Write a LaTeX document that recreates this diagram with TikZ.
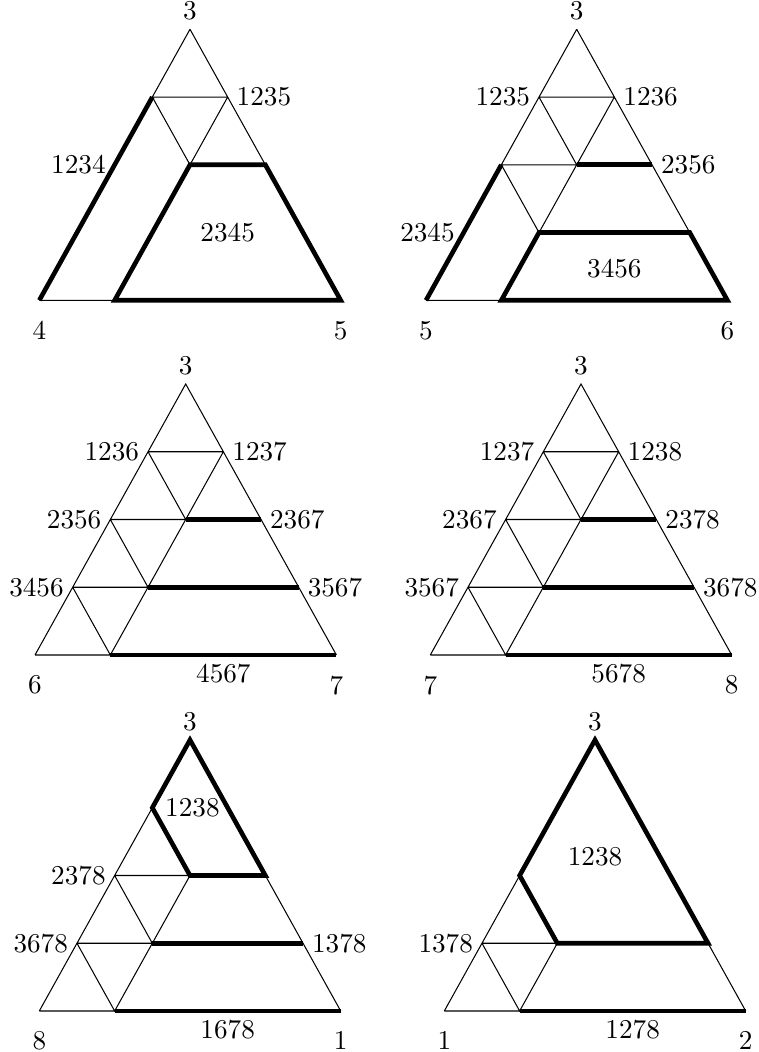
\documentclass[tikz,border=0pt]{standalone}
\usetikzlibrary{calc}
\tikzset{PlabThin/.style={line width=.4pt},
         PlabThick/.style={line width=1.8pt},
         PlabCorner/.style={anchor=north,yshift=-4.6pt}}

\begin{document}
\begin{tikzpicture}[x=.39pt,y=.39pt,
  every node/.style={font=\fontsize{10.6}{12}\selectfont}]
  \useasboundingbox (0,0) rectangle (759,1052);
  % lattice points of the six triangles: (T i j) is row i, place j
  \foreach \t/\ax/\ay in {A/190/1022.7,B/576.7/1022.7,C/185.7/668,
                          D/581/668,E/190/312,F/595/312} {
    \foreach \i in {0,...,4} {
      \foreach \j in {0,...,\i} {
        \coordinate (\t\i\j) at ({\ax+(\j-\i/2)*75.35},{\ay-\i*67.75});
      }
    }
  }
  % apex and corner labels
  \foreach \t/\l/\r in {A/4/5,B/5/6,C/6/7,D/7/8,E/8/1,F/1/2} {
    \node[anchor=south] (\t-apex) at (\t00) {3};
    \node[PlabCorner] (\t-left) at (\t40) {\l};
    \node[PlabCorner] (\t-right) at (\t44) {\r};
  }

  % top left
  \draw[PlabThin] (A00) -- (A10) (A00) -- (A11) -- (A22) (A10) -- (A11)
    (A10) -- (A21) -- (A11) (A40) -- (A41);
  \draw[PlabThick] (A10) -- (A40);
  \draw[PlabThick] (A21) -- (A41) -- (A44) -- (A22) -- cycle;
  \node[anchor=east] (A-1234) at (A20) {1234};
  \node[anchor=west] (A-1235) at (A11) {1235};
  \node (A-2345) at (A32) {2345};

  % top right
  \draw[PlabThin] (B00) -- (B20) (B00) -- (B33) (B10) -- (B11)
    (B10) -- (B21) -- (B11) (B20) -- (B21) (B20) -- (B31) -- (B21)
    (B40) -- (B41);
  \draw[PlabThick] (B20) -- (B40);
  \draw[PlabThick] (B21) -- (B22);
  \draw[PlabThick] (B31) -- (B33) -- (B44) -- (B41) -- cycle;
  \node[anchor=east] (B-1235) at (B10) {1235};
  \node[anchor=west] (B-1236) at (B11) {1236};
  \node[anchor=west] (B-2356) at (B22) {2356};
  \node[anchor=east] (B-2345) at (B30) {2345};
  \node (B-3456) at ($(B32)+(0,-35.8)$) {3456};

  % middle row, both with the full lattice
  \foreach \t/\a/\b/\c/\d/\e/\f/\g in
      {C/1236/1237/2356/2367/3456/3567/4567,
       D/1237/1238/2367/2378/3567/3678/5678} {
    \draw[PlabThin] (\t40) -- (\t00) -- (\t44) (\t10) -- (\t11)
      (\t10) -- (\t21) -- (\t11) (\t20) -- (\t21) (\t20) -- (\t31) -- (\t21)
      (\t30) -- (\t31) (\t30) -- (\t41) -- (\t31) (\t40) -- (\t41);
    \draw[PlabThick] (\t21) -- (\t22);
    \draw[PlabThick] (\t31) -- (\t33);
    \draw[PlabThick] (\t41) -- (\t44);
    \node[anchor=east] (\t-\a) at (\t10) {\a};
    \node[anchor=west] (\t-\b) at (\t11) {\b};
    \node[anchor=east] (\t-\c) at (\t20) {\c};
    \node[anchor=west] (\t-\d) at (\t22) {\d};
    \node[anchor=east] (\t-\e) at (\t30) {\e};
    \node[anchor=west] (\t-\f) at (\t33) {\f};
    \node[anchor=north] (\t-\g) at ($(\t41)!.5!(\t44)$) {\g};
  }

  % bottom left
  \draw[PlabThin] (E10) -- (E40) (E22) -- (E44) (E20) -- (E21)
    (E20) -- (E31) -- (E21) (E30) -- (E31) (E30) -- (E41) -- (E31)
    (E40) -- (E41);
  \draw[PlabThick] (E00) -- (E10) -- (E21) -- (E22) -- cycle;
  \draw[PlabThick] (E31) -- (E33);
  \draw[PlabThick] (E41) -- (E44);
  \node[anchor=west,xshift=1.5pt] (E-1238) at (E10) {1238};
  \node[anchor=east] (E-2378) at (E20) {2378};
  \node[anchor=east] (E-3678) at (E30) {3678};
  \node[anchor=west] (E-1378) at (E33) {1378};
  \node[anchor=north] (E-1678) at ($(E41)!.5!(E44)$) {1678};

  % bottom right
  \draw[PlabThin] (F20) -- (F40) (F33) -- (F44) (F30) -- (F31)
    (F30) -- (F41) -- (F31) (F40) -- (F41);
  \draw[PlabThick] (F00) -- (F20) -- (F31) -- (F33) -- cycle;
  \draw[PlabThick] (F41) -- (F44);
  \node (F-1238) at ($(F00)+(0,-116.7)$) {1238};
  \node[anchor=east] (F-1378) at (F30) {1378};
  \node[anchor=north] (F-1278) at ($(F41)!.5!(F44)$) {1278};
\end{tikzpicture}
\end{document}
